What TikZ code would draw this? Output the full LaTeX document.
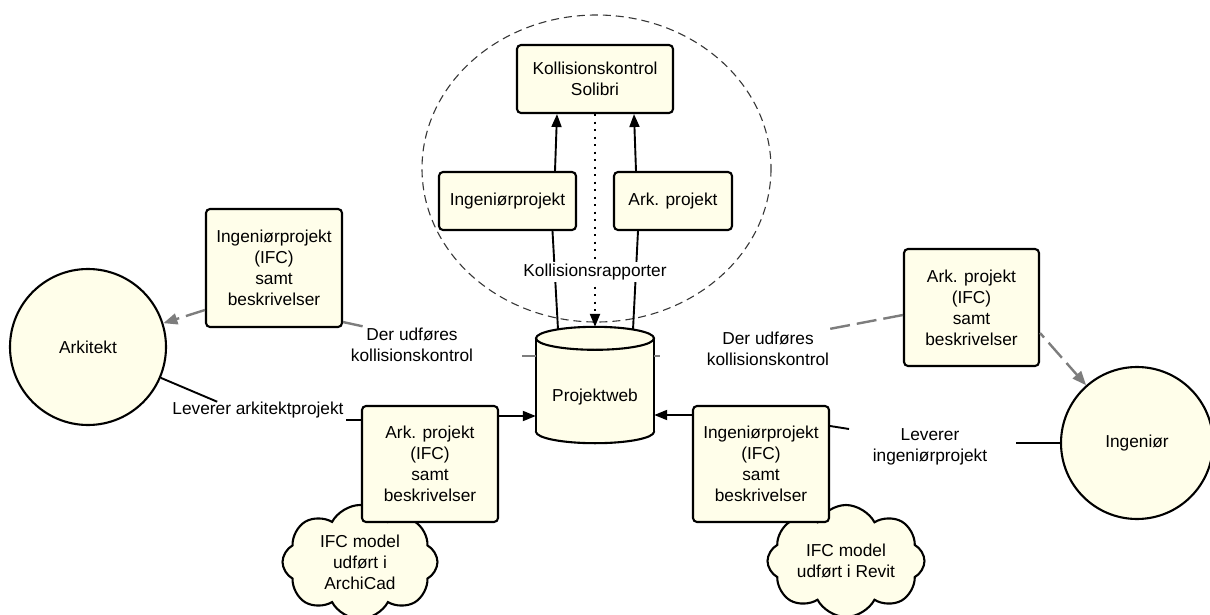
\documentclass[tikz,border=0pt]{standalone}
\usepackage{fontspec}
\setmainfont{Liberation Sans}
\usetikzlibrary{arrows.meta,shapes.symbols,calc}
\definecolor{cream}{RGB}{255,254,234}
\definecolor{linkgray}{RGB}{125,125,125}
\definecolor{ringgray}{RGB}{55,55,55}
\newcommand\diagfont{\fontsize{17.3}{21}\selectfont}

\begin{document}
\begin{tikzpicture}[x=1pt,y=-1pt,
  every node/.style={font=\diagfont},
  box/.style={draw, line width=2.1pt, rounded corners=4pt, fill=cream, align=center, inner sep=0pt},
  actor/.style={circle, draw, line width=2.1pt, fill=cream, inner sep=0pt},
  idea/.style={cloud, cloud puffs=8, cloud puff arc=125, cloud ignores aspect, draw, line width=2.1pt, fill=cream, align=center, inner sep=0pt},
  tag/.style={align=center, inner sep=0pt},
  link/.style={line width=1.9pt},
  arr/.style={link, -{Triangle[length=13pt,width=10pt]}},
  dotarr/.style={line width=2.2pt, dash pattern=on 2.2pt off 5.3pt, -{Triangle[length=13pt,width=10pt]}},
  gdash/.style={line width=2.4pt, draw=linkgray, dash pattern=on 20pt off 7pt},
  garr/.style={gdash, -{Triangle[length=14pt,width=11pt]}},
]
\useasboundingbox (0,0) rectangle (1210,615);
\begin{scope}
\clip (0,0) rectangle (1210,615);

% collision-check group
\draw[ringgray, line width=1.1pt, dash pattern=on 8pt off 5pt] (596.5,168.5) ellipse [x radius=174.5, y radius=153.5];

% clouds sit behind the delivery boxes
\node[idea, minimum width=155pt, minimum height=114pt] (cloudL) at (360,562) {IFC model\\udført i\\ArchiCad};
\node[idea, minimum width=157pt, minimum height=112pt] (cloudR) at (846,561) {IFC model\\udført i Revit};

% boxes
\node[box, minimum width=156pt, minimum height=68pt] (sol) at (595,79) {Kollisionskontrol\\Solibri};
\node[box, minimum width=137pt, minimum height=58pt] (ing) at (507.5,201) {Ingeniørprojekt};
\node[box, minimum width=118pt, minimum height=58pt] (ark) at (673,201) {Ark. projekt};
\node[box, minimum width=136pt, minimum height=118pt] (ifcL) at (274,268) {Ingeniørprojekt\\(IFC)\\samt\\beskrivelser};
\node[box, minimum width=136pt, minimum height=116pt] (arkB) at (430,464) {Ark. projekt\\(IFC)\\samt\\beskrivelser};
\node[box, minimum width=136pt, minimum height=116pt] (ingB) at (761,464) {Ingeniørprojekt\\(IFC)\\samt\\beskrivelser};
\node[box, minimum width=135pt, minimum height=117pt] (ifcR) at (971.5,307.5) {Ark. projekt\\(IFC)\\samt\\beskrivelser};

% actors
\node[actor, minimum size=156pt] (arkitekt) at (88,347) {Arkitekt};
\node[actor, minimum size=152pt] (ingenior) at (1137,443) {Ingeniør};

% project web database
\node[minimum width=118pt, minimum height=116pt, inner sep=0pt] (pw) at (595,385) {};
\filldraw[fill=cream, line width=2.1pt] ($(pw.south)+(0,-11.5)$) ellipse [x radius=59, y radius=11.5];
\fill[cream] ($(pw.north west)+(0,11.5)$) rectangle ($(pw.south east)+(0,-11.5)$);
\draw[line width=2.1pt] ($(pw.north west)+(0,11.5)$) -- ($(pw.south west)+(0,-11.5)$)
                        ($(pw.north east)+(0,11.5)$) -- ($(pw.south east)+(0,-11.5)$);
\filldraw[fill=cream, line width=2.1pt] ($(pw.north)+(0,11.5)$) ellipse [x radius=59, y radius=11.5];
\node (pwtext) at (595,397) {Projektweb};

% labels
\node[tag] (derL) at (412,345) {Der udføres\\kollisionskontrol};
\node[tag] (derR) at (768,349) {Der udføres\\kollisionskontrol};
\node[tag] (levA) at (258,410) {Leverer arkitektprojekt};
\node[tag] (levI) at (930,447) {Leverer\\ingeniørprojekt};

% inside the collision-check group
\draw[arr] ($(ing.north)+(47.5,0)$) -- ($(sol.south)+(-38,0)$);
\draw[arr] ($(ark.north)+(-37,0)$) -- ($(sol.south)+(39,0)$);
\draw[link] ($(ing.south)+(45,0)$) -- ($(pw.north)+(-37,2.5)$);
\draw[link] ($(ark.south)+(-35,0)$) -- ($(pw.north)+(38,3)$);
\draw[dotarr] (sol.south) -- (pw.north);
\node[tag, fill=white, inner sep=2pt] (rap) at (595,272) {Kollisionsrapporter};

% uploads to the project web
\draw[arr] ($(arkB.east)+(0,-48)$) -- ($(pw.west)+(0,31)$);
\draw[arr] ($(ingB.west)+(0,-49)$) -- ($(pw.east)+(0,30)$);

% deliveries
\draw[link] (arkitekt) -- ($(levA.north west)+(45,0)$);
\draw[link] ($(arkB.west)+(0,-44)$) -- ++(-15,0);
\draw[link] (ingenior.west) -- ++(-44,0);
\draw[link] ($(ingB.east)+(0,-38)$) -- ++(19,3);

% collision checks and feedback
\draw[gdash] ($(pw.west)+(0,-29)$) -- ++(-14,0);
\draw[gdash] ($(ifcL.south east)+(0,-6)$) -- ++(23,5);
\draw[garr] ($(ifcL.west)+(0,42)$) -- (arkitekt);
\draw[gdash] ($(pw.east)+(0,-29)$) -- ++(6,0);
\draw[gdash] ($(ifcR.west)+(0,7.5)$) -- ++(-79,15);
\draw[garr, dash phase=14pt] ($(ifcR.east)+(0,25.5)$) -- (ingenior);
\end{scope}
\end{tikzpicture}
\end{document}
